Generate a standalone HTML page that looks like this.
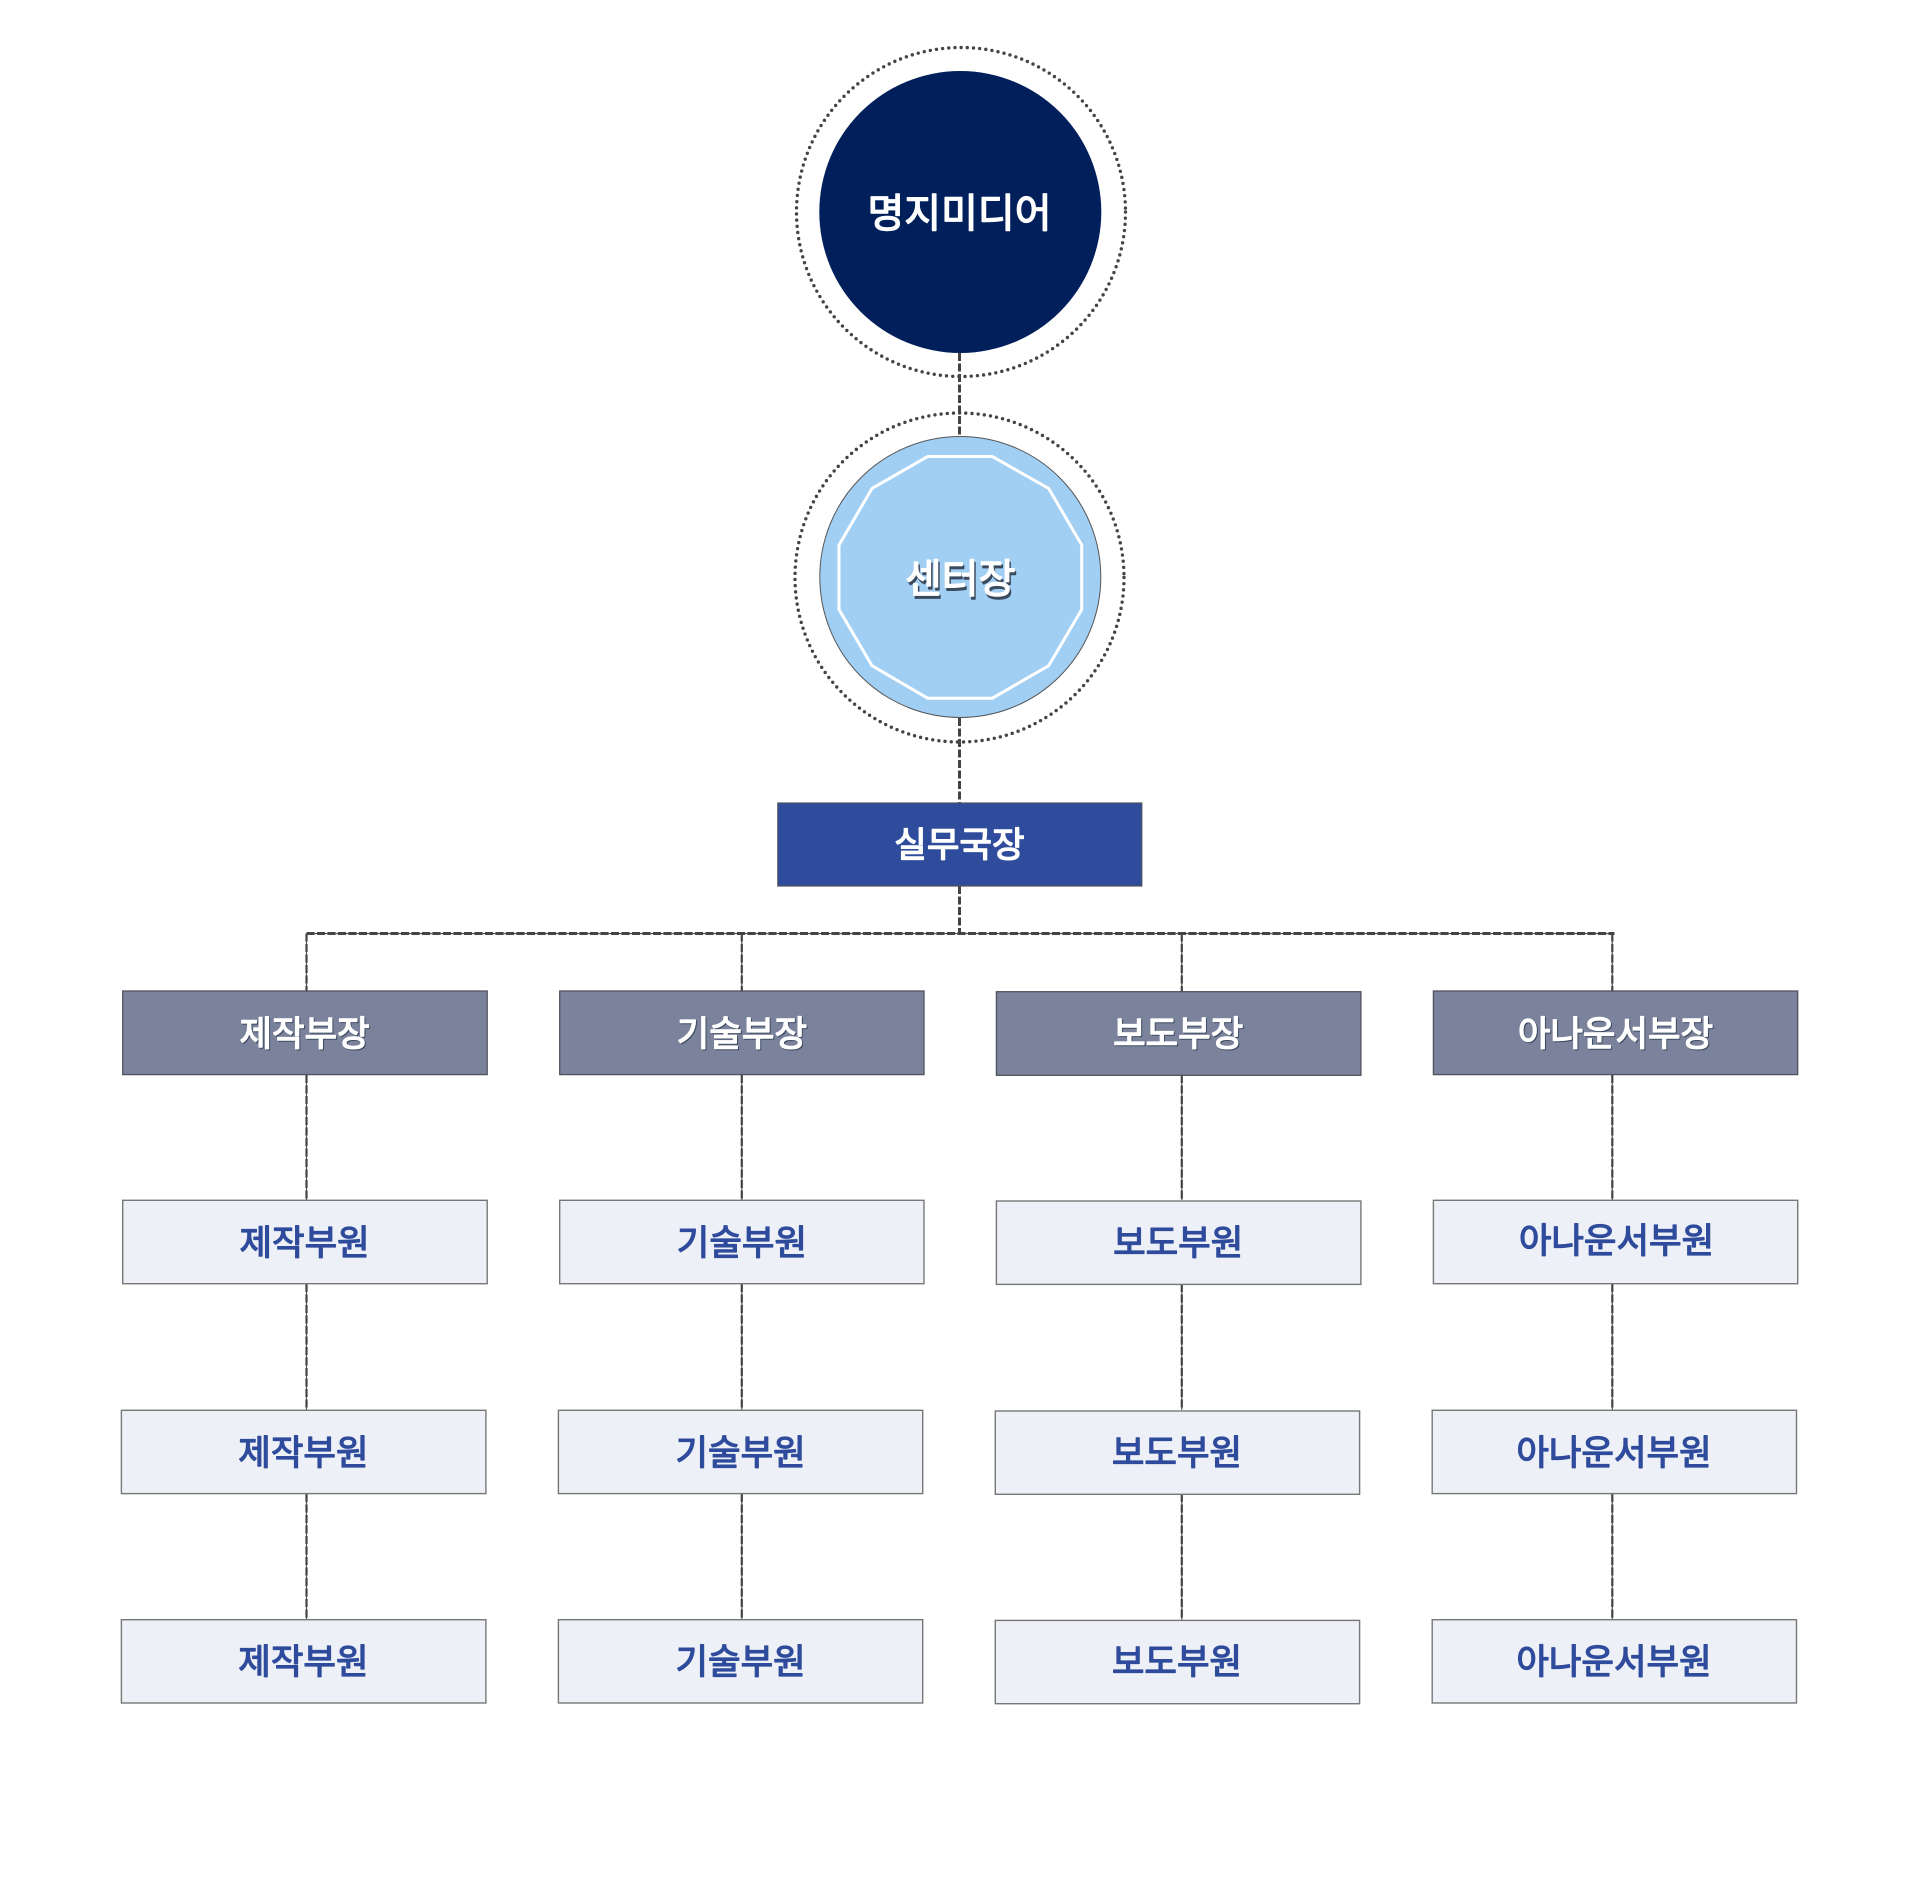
<!DOCTYPE html>
<html lang="ko"><head><meta charset="utf-8"><title>조직도</title>
<style>
html,body{margin:0;padding:0;background:#fff}
svg{display:block}
text{font-family:"Liberation Sans","Noto Sans CJK KR",sans-serif;text-anchor:middle;stroke-linejoin:round}
.w{fill:#fff;stroke:#fff;stroke-width:1.4px}
.s{fill:#3c4a60;stroke:#3c4a60;stroke-width:1.4px}
.b{fill:#2f4b9c;stroke:#2f4b9c;stroke-width:1.3px}
.t{font-size:35.4px;letter-spacing:0}
.d{fill:none;stroke:#444;stroke-width:3;stroke-dasharray:8 2.5}
.l{fill:none;stroke:#555;stroke-width:1.2}
.dr{fill:#7b829b;stroke:#50535f;stroke-width:1.3}
.mr{fill:#edf0f6;stroke:#777;stroke-width:1.4}
</style></head><body>
<svg width="1920" height="1897" viewBox="0 0 1920 1897" xmlns="http://www.w3.org/2000/svg">
<rect width="1920" height="1897" fill="#fff"/>
<path class="l" d="M306.5 933.5H1614.5M306.5 933.5V991M741.8 933.5V991M1181.8 933.5V992M1612.3 933.5V991M306.5 1075V1200M741.8 1075V1200M1181.8 1075V1200M1612.3 1075V1200M306.5 1284V1410M741.8 1284V1410M1181.8 1284V1410M1612.3 1284V1410M306.5 1494V1620M741.8 1494V1620M1181.8 1494V1620M1612.3 1494V1620"/>
<path class="d" d="M959.5 353V437M959.5 718V803M959.5 886V933"/>
<path class="d" d="M306.5 933.5H1614.5"/>
<path class="d" style="stroke-width:2.2" d="M306.5 933.5V991M741.8 933.5V991M1181.8 933.5V992M1612.3 933.5V991M306.5 1075V1200M741.8 1075V1200M1181.8 1075V1200M1612.3 1075V1200M306.5 1284V1410M741.8 1284V1410M1181.8 1284V1410M1612.3 1284V1410M306.5 1494V1620M741.8 1494V1620M1181.8 1494V1620M1612.3 1494V1620"/>

<circle cx="961" cy="212" r="164.5" fill="none" stroke="#444" stroke-width="3.4" stroke-linecap="round" stroke-dasharray="0 6.2"/>
<circle cx="960.3" cy="212" r="141" fill="#001f5b"/>
<text class="w" x="959.5" y="227" font-size="40">명지미디어</text>

<circle cx="959.5" cy="577.5" r="164.5" fill="none" stroke="#444" stroke-width="3.4" stroke-linecap="round" stroke-dasharray="0 6.2"/>
<circle cx="960.3" cy="577" r="140.5" fill="#a1cff4" stroke="#555" stroke-width="1"/>
<polygon points="927.7,456.5 992.3,456.5 1048.7,488.5 1081.7,545 1081.7,609.5 1048.7,665.7 992.3,698.2 927.7,698.2 872,665.7 839,609.5 839,545 872,488.5" fill="none" stroke="#fff" stroke-width="3"/>
<text class="s" x="961.7" y="595.5" font-size="40">센터장</text>
<text class="w" x="960.2" y="592.5" font-size="40">센터장</text>

<rect x="777.8" y="803" width="364" height="83" fill="#2f4b9c" stroke="#50535f" stroke-width="1.2"/>
<text class="w t" x="959.4" y="857.2">실무국장</text>

<rect class="dr" x="122.7" y="991" width="364.5" height="83.6"/>
<rect class="dr" x="559.7" y="991" width="364.3" height="83.6"/>
<rect class="dr" x="996.4" y="991.7" width="364.5" height="83.6"/>
<rect class="dr" x="1433.4" y="991" width="364.3" height="83.6"/>
<g class="t">
<text class="s" x="305.6" y="1047.2">제작부장</text><text class="w" x="304.6" y="1046.2">제작부장</text>
<text class="s" x="742.9" y="1047.2">기술부장</text><text class="w" x="741.9" y="1046.2">기술부장</text>
<text class="s" x="1179.2" y="1047.2">보도부장</text><text class="w" x="1178.2" y="1046.2">보도부장</text>
<text class="s" x="1616.5" y="1047.2">아나운서부장</text><text class="w" x="1615.5" y="1046.2">아나운서부장</text>
</g>

<rect class="mr" x="122.7" y="1200.3" width="364.5" height="83.4"/>
<rect class="mr" x="559.7" y="1200.3" width="364.3" height="83.4"/>
<rect class="mr" x="996.4" y="1201" width="364.5" height="83.4"/>
<rect class="mr" x="1433.4" y="1200.3" width="364.3" height="83.4"/>
<rect class="mr" x="121.4" y="1410.3" width="364.5" height="83.3"/>
<rect class="mr" x="558.4" y="1410.3" width="364.3" height="83.3"/>
<rect class="mr" x="995.3" y="1411" width="364.3" height="83.3"/>
<rect class="mr" x="1432.2" y="1410.3" width="364.3" height="83.3"/>
<rect class="mr" x="121.4" y="1619.7" width="364.5" height="83.3"/>
<rect class="mr" x="558.4" y="1619.7" width="364.3" height="83.3"/>
<rect class="mr" x="995.3" y="1620.4" width="364.3" height="83.3"/>
<rect class="mr" x="1432.2" y="1619.7" width="364.3" height="83.3"/>
<g class="t">
<text class="b" x="304.6" y="1255.2">제작부원</text>
<text class="b" x="741.9" y="1255.2">기술부원</text>
<text class="b" x="1178.2" y="1255.2">보도부원</text>
<text class="b" x="1616.5" y="1253.2">아나운서부원</text>
<text class="b" x="303.4" y="1465.2">제작부원</text>
<text class="b" x="740.6" y="1465.2">기술부원</text>
<text class="b" x="1177" y="1465.2">보도부원</text>
<text class="b" x="1614" y="1465.2">아나운서부원</text>
<text class="b" x="303.4" y="1674.2">제작부원</text>
<text class="b" x="740.6" y="1674.2">기술부원</text>
<text class="b" x="1177" y="1674.2">보도부원</text>
<text class="b" x="1614" y="1674.2">아나운서부원</text>
</g>
</svg>
</body></html>
